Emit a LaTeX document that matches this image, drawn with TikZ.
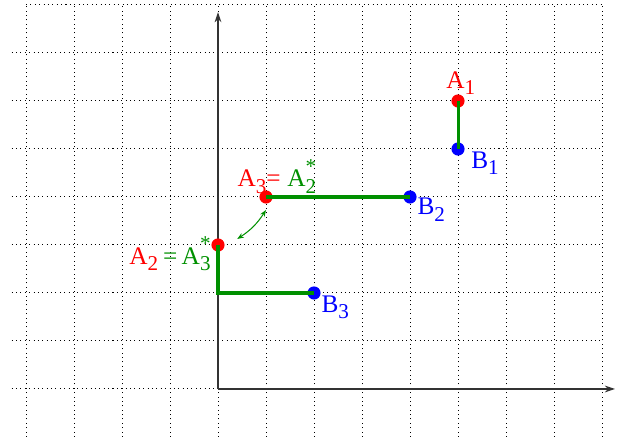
\documentclass[tikz,border=0pt]{standalone}
\usepackage{fontspec}
\setmainfont{Liberation Serif}
\usetikzlibrary{arrows.meta}
\definecolor{figgreen}{RGB}{0,144,0}
\newcommand{\subsz}{\fontsize{12.5}{12.5}\selectfont}
\newcommand{\Pt}[2]{#1\raisebox{-4pt}{\subsz #2}}
\newcommand{\Pts}[2]{#1\rlap{\raisebox{8pt}{\subsz *}}\raisebox{-4pt}{\subsz #2}}

\begin{document}
\begin{tikzpicture}[every node/.style={font=\fontsize{15}{17}\selectfont, inner sep=0pt}, >={Stealth[length=6pt,width=4pt]},
	dot/.style={circle, fill, minimum size=7.8pt, inner sep=0pt}, seg/.style={figgreen, line width=1.8pt}]
	\useasboundingbox (-4.542,-1.1875) rectangle (8.333,8.104);
	% grid
	\foreach \x in {-4,...,8} \draw[dotted, line width=0.6pt] (\x,-1) -- (\x,8);
	\foreach \y in {0,...,7} \draw[dotted, line width=0.6pt] (-4.3,\y) -- (8,\y);
	\draw[dotted, line width=0.6pt] (-4,8) -- (8,8);
	% axes
	\draw[->, black!80, line width=0.7pt] (0,0) -- (8.27,0);
	\draw[->, black!80, line width=0.7pt] (0,0) -- (0,7.85);
	% points
	\node[dot, red] (a1) at (5,6) {};
	\node[dot, blue] (b1) at (5,5) {};
	\node[dot, red] (a3) at (1,4) {};
	\node[dot, blue] (b2) at (4,4) {};
	\node[dot, red] (a2) at (0,3) {};
	\node[dot, blue] (b3) at (2,2) {};
	\draw[seg] (a1.center) -- (b1.center);
	\draw[seg] (a3.center) -- (b2.center);
	\draw[seg] (a2.center) |- (b3.center);
	% swap
	\coordinate (s) at (0.40,3.125);
	\coordinate (e) at (1.0,3.73);
	\draw[figgreen, line width=0.6pt, {Stealth[length=4pt,width=3pt]}-{Stealth[length=4pt,width=3pt]}] (s) to[bend right=12] (e);
	% labels
	\node[red, anchor=base west] (la1) at (4.75,6.27) {\Pt{A}{1}};
	\node[blue, anchor=base west] (lb1) at (5.27,4.60) {\Pt{B}{1}};
	\node[blue, anchor=base west] (lb2) at (4.15,3.625) {\Pt{B}{2}};
	\node[blue, anchor=base west] (lb3) at (2.15,1.60) {\Pt{B}{3}};
	\node[anchor=base west] (la3) at (0.40,4.21) {\color{red}\Pt{A}{3}=\hspace{4pt}\color{figgreen}\Pts{A}{2}};
	\node[anchor=base west] (la2) at (-1.854,2.60) {\color{red}\Pt{A}{2}\hspace{3pt}\color{figgreen}=\hspace{2.5pt}\Pts{A}{3}};
\end{tikzpicture}
\end{document}
